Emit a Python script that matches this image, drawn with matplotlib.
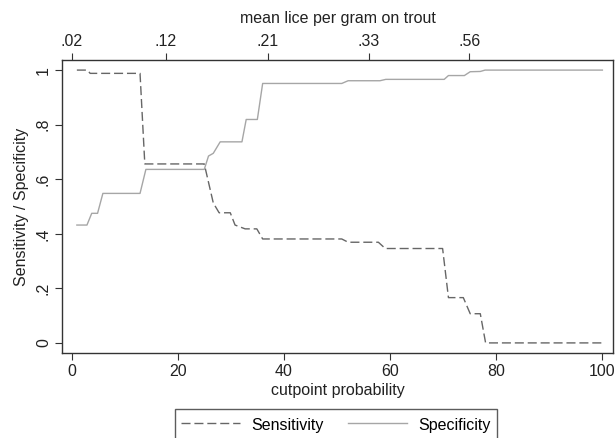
import matplotlib
matplotlib.use('Agg')
import matplotlib.pyplot as plt
from matplotlib.lines import Line2D

plt.rcParams['font.family'] = ['Liberation Sans', 'DejaVu Sans']

# cutpoint (%) vs sensitivity / specificity
SENS_X = [1.0, 3.0, 3.5, 12.9, 13.8, 25.0, 26.7, 27.8, 29.9, 30.8, 32.7, 34.9,
          36.0, 50.9, 52.1, 57.8, 59.1, 69.9, 71.0, 73.8, 75.1, 77.0, 78.0, 100.0]
SENS_Y = [1.0, 1.0, 0.988, 0.988, 0.656, 0.656, 0.513, 0.477, 0.477, 0.432,
          0.418, 0.418, 0.381, 0.381, 0.369, 0.369, 0.346, 0.346, 0.166,
          0.166, 0.107, 0.107, 0.0, 0.0]

SPEC_X = [1.0, 2.9, 3.8, 4.9, 5.9, 12.9, 14.0, 25.0, 25.8, 26.7, 28.0, 32.1,
          32.9, 35.0, 36.0, 50.9, 52.1, 58.1, 59.2, 70.2, 71.0, 74.0, 75.1,
          77.0, 77.9, 100.0]
SPEC_Y = [0.432, 0.432, 0.475, 0.475, 0.548, 0.548, 0.636, 0.636, 0.685,
          0.695, 0.737, 0.737, 0.819, 0.819, 0.951, 0.951, 0.961, 0.961,
          0.966, 0.966, 0.980, 0.980, 0.994, 0.995, 1.0, 1.0]

X_TICKS = [0, 20, 40, 60, 80, 100]
Y_TICKS = [0, 0.2, 0.4, 0.6, 0.8, 1.0]
Y_TICKLABELS = ['0', '.2', '.4', '.6', '.8', '1']

# top axis: lice density at selected cutpoints
TOP_POS = [0, 17.8, 37.0, 56.0, 74.9]
TOP_LABELS = ['.02', '.12', '.21', '.33', '.56']

SENS_COLOR = '#666666'
SPEC_COLOR = '#a6a6a6'
FRAME = '#333333'
TXT = '#222222'
FS = 11.5

fig = plt.figure(figsize=(6.15, 4.38), dpi=100)
ax = fig.add_axes([62 / 615, 85 / 438, 551 / 615, 293 / 438])

ax.plot(SENS_X, SENS_Y, color=SENS_COLOR, lw=1.0, dashes=(6.5, 2.8))
ax.plot(SPEC_X, SPEC_Y, color=SPEC_COLOR, lw=1.0)

ax.set_xlim(-1.8, 102.0)
ax.set_ylim(-0.037, 1.037)

ax.set_xticks(X_TICKS)
ax.set_xticklabels([str(v) for v in X_TICKS])
ax.set_yticks(Y_TICKS)
ax.set_yticklabels(Y_TICKLABELS, rotation=90, va='center')
ax.tick_params(direction='out', length=5, width=0.8, colors=FRAME,
               labelsize=FS, labelcolor=TXT, pad=3)

for sp in ax.spines.values():
    sp.set_color(FRAME)
    sp.set_linewidth(1.0)

ax.set_xlabel('cutpoint probability', fontsize=FS, color=TXT, labelpad=3)
ax.set_ylabel('Sensitivity / Specificity', fontsize=FS, color=TXT, labelpad=5)

top = ax.secondary_xaxis('top')
top.set_xticks(TOP_POS)
top.set_xticklabels(TOP_LABELS)
top.tick_params(direction='out', length=5, width=0.8, colors=FRAME,
                labelsize=FS, labelcolor=TXT, pad=3)
top.spines['top'].set_visible(False)
top.set_xlabel('mean lice per gram on trout', fontsize=FS, color=TXT, labelpad=8)

# legend sits at the bottom edge; its lower border runs off the figure
handles = [Line2D([], [], color=SENS_COLOR, lw=1.0, dashes=(6.5, 2.8)),
           Line2D([], [], color=SPEC_COLOR, lw=1.0)]
leg = fig.legend(handles, ['Sensitivity', 'Specificity'], ncol=2,
                 loc='upper center', bbox_to_anchor=(336 / 615, 29 / 438),
                 borderaxespad=0, frameon=True, fancybox=False, edgecolor=FRAME,
                 handlelength=3.7, handleheight=1.4, handletextpad=0.7,
                 columnspacing=1.55, borderpad=0.4, fontsize=FS)
leg.get_frame().set_linewidth(1.0)

fig.savefig('out.png', dpi=100, facecolor='white')
